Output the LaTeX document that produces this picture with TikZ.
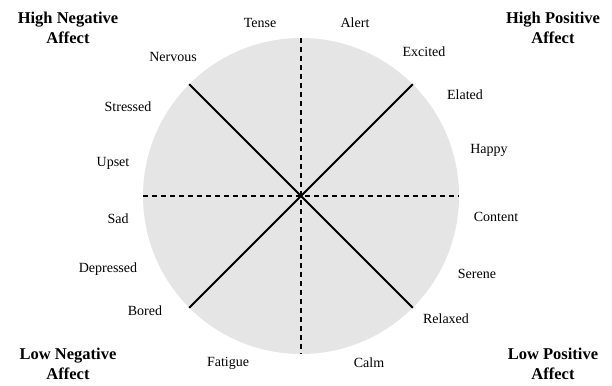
\documentclass[tikz,border=0pt]{standalone}
\usepackage{fontspec}
\setmainfont{Liberation Serif}
\usepackage{xcolor}
\usetikzlibrary{shapes.geometric, positioning}
\definecolor{wheelgray}{RGB}{229, 229, 229}

\begin{document}
\begin{tikzpicture}[
    x=1pt, y=1pt,
    wheel/.style={circle, fill=wheelgray, minimum size=316pt, inner sep=0pt},
    mood/.style={font=\fontsize{14}{16}\selectfont, inner sep=0pt},
    quadrant/.style={font=\fontsize{16.5}{20}\selectfont\bfseries, align=center, inner sep=0pt},
    axisline/.style={line width=2pt, dash pattern=on 5pt off 4pt},
    diagline/.style={line width=2pt}
]
    \useasboundingbox (0,0) rectangle (612,385);
    \node[wheel] (circ) at (301,189) {};

    % axes and diagonals
    \draw[diagline] (circ.north west) -- (circ.south east);
    \draw[diagline] (circ.south west) -- (circ.north east);
    \draw[axisline] (circ.west) -- (circ.east);
    \draw[axisline] (circ.north) -- (circ.south);

    % quadrant titles
    \node[quadrant] (hineg) at (68,357) {High Negative\\Affect};
    \node[quadrant] (hipos) at (553,357) {High Positive\\Affect};
    \node[quadrant] (loneg) at (68,21) {Low Negative\\Affect};
    \node[quadrant] (lopos) at (553,21) {Low Positive\\Affect};

    % moods round the wheel
    \node[mood] (tense) at (260,362) {Tense};
    \node[mood] (alert) at (355,362) {Alert};
    \node[mood] (nervous) at (173,328) {Nervous};
    \node[mood] (excited) at (424,333) {Excited};
    \node[mood] (stressed) at (128,278) {Stressed};
    \node[mood] (elated) at (465,290) {Elated};
    \node[mood] (upset) at (113,222) {Upset};
    \node[mood] (happy) at (489,235) {Happy};
    \node[mood] (sad) at (118,166) {Sad};
    \node[mood] (content) at (496,168) {Content};
    \node[mood] (depressed) at (108,116) {Depressed};
    \node[mood] (serene) at (477,111) {Serene};
    \node[mood] (bored) at (145,74) {Bored};
    \node[mood] (relaxed) at (446,66) {Relaxed};
    \node[mood] (fatigue) at (228,22) {Fatigue};
    \node[mood] (calm) at (369,22) {Calm};
\end{tikzpicture}
\end{document}
